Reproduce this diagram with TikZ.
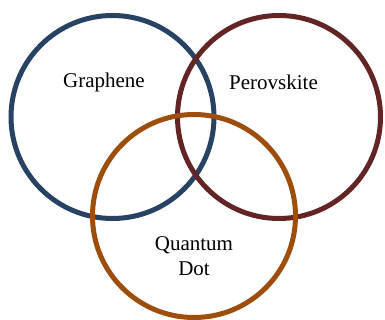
\documentclass[tikz,border=0pt]{standalone}
\usepackage{fontspec}
\setmainfont{Liberation Serif}
\definecolor{grafeno}{RGB}{40,66,99}
\definecolor{perov}{RGB}{98,36,36}
\definecolor{quantico}{RGB}{158,78,12}
\begin{document}
\begin{tikzpicture}[x=1pt,y=-1pt,
  anel/.style={line width=5pt},
  rotulo/.style={font=\fontsize{21}{25}\selectfont, align=center}]
\useasboundingbox (0,0) rectangle (385,320);
\draw[anel, grafeno] (112.5,117) circle (101.5);
\draw[anel, perov] (279,117) circle (101.5);
\draw[anel, quantico] (194,216) circle (101.5);
\node[rotulo] (g) at (104,82) {Graphene};
\node[rotulo] (p) at (273.5,82) {Perovskite};
\node[rotulo] (q) at (194,256) {Quantum\\Dot};
\end{tikzpicture}
\end{document}
